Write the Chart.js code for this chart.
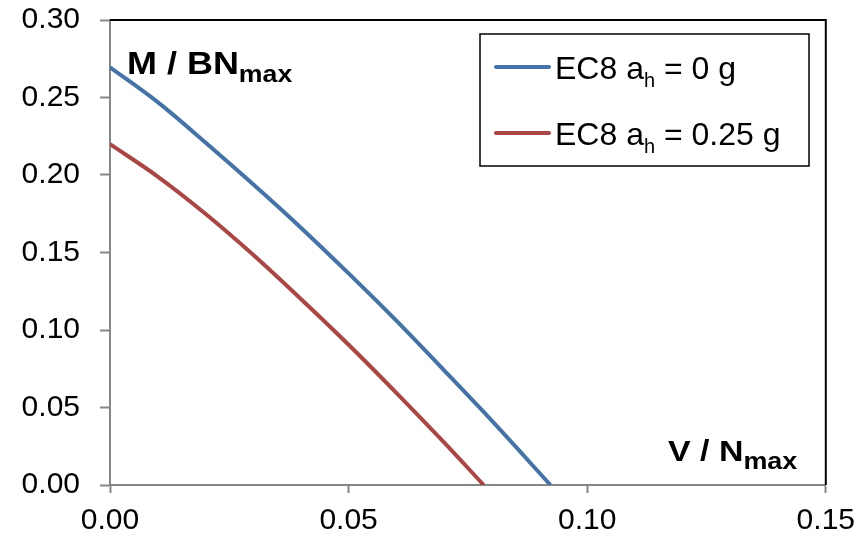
<!DOCTYPE html>
<html lang="en">
<head>
    <meta charset="UTF-8">
    <title>M / BN vs V / N</title>
    <style>
        html, body {
            margin: 0;
            padding: 0;
            background-color: white;
        }
        #chartBox {
            width: 865px;
            height: 541px;
        }
    </style>
    <script src="https://cdn.jsdelivr.net/npm/chart.js"></script>
</head>
<body>
    <div id="chartBox"><canvas id="myChart"></canvas></div>

    <script>
        // values
        const seriesNames = ['EC8 ah = 0 g', 'EC8 ah = 0.25 g'];
        const blueX = [0, 0.010, 0.020, 0.030, 0.040, 0.050, 0.060, 0.070, 0.080, 0.0923];
        const blueY = [0.2695, 0.2470, 0.2210, 0.1940, 0.1660, 0.1365, 0.1060, 0.0740, 0.0415, 0];
        const redX = [0, 0.010, 0.020, 0.030, 0.040, 0.050, 0.060, 0.070, 0.0783];
        const redY = [0.2199, 0.1990, 0.1750, 0.1485, 0.1200, 0.0905, 0.0595, 0.0275, 0];
        const xTicks = [0, 0.05, 0.10, 0.15];
        const yTicks = [0, 0.05, 0.10, 0.15, 0.20, 0.25, 0.30];

        const BLUE = '#4572A7';
        const RED = '#AA4643';
        const FONT = 'Liberation Sans, Arial, sans-serif';

        function toPoints(xs, ys) {
            return xs.map((x, i) => ({ x: x, y: ys[i] }));
        }

        // text with a subscript part (optionally stretched sideways), returns end x
        function subText(ctx, x, y, main, sub, size, subSize, bold, shift, sx) {
            const w = bold ? 'bold ' : '';
            sx = sx || 1;
            ctx.save();
            ctx.translate(x, y);
            ctx.scale(sx, 1);
            ctx.font = w + size + 'px ' + FONT;
            ctx.fillText(main, 0, 0);
            const mw = ctx.measureText(main).width;
            ctx.font = w + subSize + 'px ' + FONT;
            ctx.fillText(sub, mw, shift);
            const sw = ctx.measureText(sub).width;
            ctx.restore();
            return x + (mw + sw) * sx;
        }

        const extras = {
            id: 'extras',
            afterDraw(chart) {
                const ctx = chart.ctx;
                const a = chart.chartArea;
                ctx.save();
                // top and right frame
                ctx.strokeStyle = '#000';
                ctx.lineWidth = 2;
                ctx.beginPath();
                ctx.moveTo(a.left, a.top);
                ctx.lineTo(a.right, a.top);
                ctx.lineTo(a.right, a.bottom);
                ctx.stroke();

                ctx.fillStyle = '#000';
                ctx.textBaseline = 'alphabetic';
                ctx.textAlign = 'left';
                // axis titles
                subText(ctx, 127, 74, 'M / BN', 'max', 31, 23, true, 8, 1.16);
                subText(ctx, 668, 461, 'V / N', 'max', 29, 23, true, 8, 1.17);

                // legend
                ctx.strokeStyle = '#000';
                ctx.lineWidth = 1.5;
                ctx.strokeRect(480, 34, 329, 132);
                const rows = [
                    { color: BLUE, y: 67, rest: ' = 0 g' },
                    { color: RED, y: 133, rest: ' = 0.25 g' }
                ];
                rows.forEach(r => {
                    ctx.strokeStyle = r.color;
                    ctx.lineWidth = 4;
                    ctx.lineCap = 'round';
                    ctx.beginPath();
                    ctx.moveTo(496, r.y);
                    ctx.lineTo(549, r.y);
                    ctx.stroke();
                    const endX = subText(ctx, 555, r.y + 12, 'EC8 a', 'h', 32, 20, false, 8);
                    ctx.font = '32px ' + FONT;
                    ctx.fillText(r.rest, endX, r.y + 12);
                });
                ctx.restore();
            }
        };

        const ctx = document.getElementById('myChart').getContext('2d');
        const myChart = new Chart(ctx, {
            type: 'scatter',
            data: {
                datasets: [{
                    label: seriesNames[0],
                    data: toPoints(blueX, blueY),
                    showLine: true,
                    borderColor: BLUE,
                    borderWidth: 4,
                    pointRadius: 0,
                    cubicInterpolationMode: 'monotone'
                }, {
                    label: seriesNames[1],
                    data: toPoints(redX, redY),
                    showLine: true,
                    borderColor: RED,
                    borderWidth: 4,
                    pointRadius: 0,
                    cubicInterpolationMode: 'monotone'
                }]
            },
            options: {
                responsive: true,
                maintainAspectRatio: false,
                animation: false,
                layout: {
                    padding: { top: 20, right: 37, left: 0, bottom: 0 }
                },
                plugins: {
                    legend: { display: false },
                    tooltip: { enabled: false }
                },
                scales: {
                    x: {
                        type: 'linear',
                        min: 0,
                        max: 0.15,
                        afterFit: s => { s.height = 56; },
                        afterBuildTicks: s => { s.ticks = xTicks.map(v => ({ value: v })); },
                        grid: {
                            drawOnChartArea: false,
                            drawTicks: true,
                            tickLength: 8,
                            tickWidth: 2,
                            color: '#868686'
                        },
                        border: { color: '#868686', width: 2 },
                        ticks: {
                            color: '#000',
                            padding: 10,
                            maxRotation: 0,
                            font: { family: FONT, size: 30 },
                            callback: v => v.toFixed(2)
                        }
                    },
                    y: {
                        type: 'linear',
                        min: 0,
                        max: 0.3,
                        afterFit: s => {
                            s.width = 110;
                            s.paddingTop = 0;
                            s.paddingBottom = 0;
                        },
                        afterBuildTicks: s => { s.ticks = yTicks.map(v => ({ value: v })); },
                        grid: {
                            drawOnChartArea: false,
                            drawTicks: true,
                            tickLength: 10,
                            tickWidth: 2,
                            color: '#868686'
                        },
                        border: { color: '#868686', width: 2 },
                        ticks: {
                            color: '#000',
                            padding: 20,
                            font: { family: FONT, size: 30 },
                            callback: v => v.toFixed(2)
                        }
                    }
                }
            },
            plugins: [extras]
        });
    </script>
</body>
</html>
